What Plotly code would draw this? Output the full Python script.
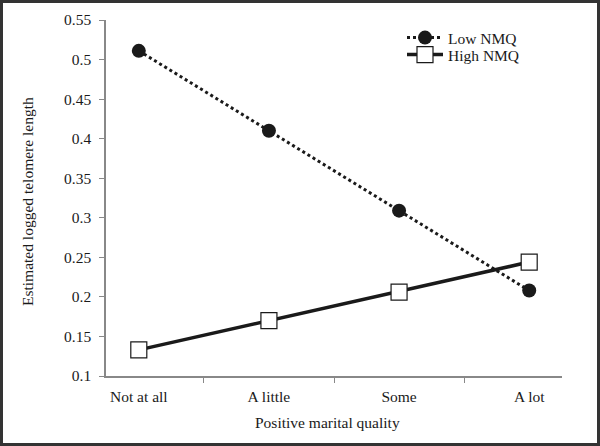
import plotly.graph_objects as go

categories = ["Not at all", "A little", "Some", "A lot"]
low_nmq = [0.511, 0.410, 0.309, 0.208]
high_nmq = [0.133, 0.170, 0.206, 0.244]
y_ticks = [0.1, 0.15, 0.2, 0.25, 0.3, 0.35, 0.4, 0.45, 0.5, 0.55]
y_tick_labels = ["0.1", "0.15", "0.2", "0.25", "0.3", "0.35", "0.4", "0.45", "0.5", "0.55"]
x_title = "Positive marital quality"
y_title = "Estimated logged telomere length"

FONT = "Liberation Serif"
FS = 15.5

fig = go.Figure()
fig.add_trace(go.Scatter(
    x=categories, y=low_nmq, name="Low NMQ", mode="lines+markers",
    line=dict(color="#1a1a1a", width=3, dash="dot"),
    marker=dict(symbol="circle", size=14, color="#1a1a1a"),
    legend="legend",
))
fig.add_trace(go.Scatter(
    x=categories, y=high_nmq, name="High NMQ", mode="lines+markers",
    line=dict(color="#1a1a1a", width=3.5),
    marker=dict(symbol="square", size=16, color="white",
                line=dict(color="#1a1a1a", width=1.2)),
    legend="legend2",
))

W, H = 600, 446
L, R, T, B = 106, 38, 20, 70
pw, ph = W - L - R, H - T - B

leg_common = dict(xanchor="left", yanchor="middle", bgcolor="rgba(0,0,0,0)",
                  font=dict(size=FS, family=FONT), itemwidth=36)

fig.update_layout(
    width=W, height=H,
    margin=dict(l=L, r=R, t=T, b=B, autoexpand=False),
    paper_bgcolor="white", plot_bgcolor="white",
    font=dict(family=FONT, size=FS, color="#1a1a1a"),
    showlegend=True,
    legend=dict(x=(402 - L) / pw, y=1 - (38 - T) / ph, **leg_common),
    legend2=dict(x=(402 - L) / pw, y=1 - (55 - T) / ph, **leg_common),
    xaxis=dict(
        type="category", tickson="boundaries", ticks="outside", ticklen=5,
        tickcolor="#888", showline=True, linecolor="#888", linewidth=1.5,
        showgrid=False, zeroline=False, automargin=False,
        ticklabelstandoff=6,
        tickfont=dict(size=FS, family=FONT),
    ),
    yaxis=dict(
        range=[0.1, 0.55], tickvals=y_ticks, ticktext=y_tick_labels,
        ticks="outside", ticklen=5, tickcolor="#888",
        showline=True, linecolor="#888", linewidth=1.5,
        showgrid=False, zeroline=False, automargin=False,
        ticklabelstandoff=5,
        tickfont=dict(size=FS, family=FONT),
    ),
    annotations=[
        dict(text=x_title, xref="paper", yref="paper",
             x=(327 - L) / pw, y=(T + ph - 422) / ph, xanchor="center", yanchor="middle",
             showarrow=False, font=dict(size=FS, family=FONT)),
        dict(text=y_title, xref="paper", yref="paper", textangle=-90,
             x=-(L - 27) / pw, y=1 - (202 - T) / ph, xanchor="center", yanchor="middle",
             showarrow=False, font=dict(size=FS, family=FONT)),
    ],
    shapes=[dict(
        type="rect", xref="paper", yref="paper", layer="above",
        x0=(1.5 - L) / pw, x1=(W - 1.5 - L) / pw,
        y0=-(B - 1.5) / ph, y1=1 + (T - 1.5) / ph,
        line=dict(color="#333333", width=3), fillcolor="rgba(0,0,0,0)",
    )],
)

fig.write_html(
    "out.html",
    config={"displayModeBar": False},
    post_script="document.body.style.margin='0';document.body.style.overflow='hidden';",
)
